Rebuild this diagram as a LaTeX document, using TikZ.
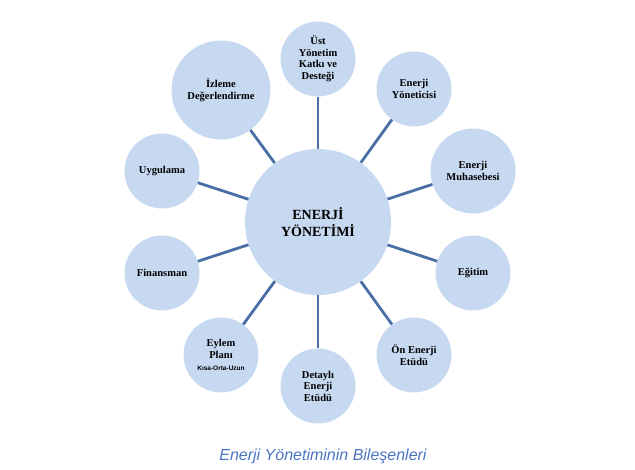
\documentclass[tikz,border=0pt]{standalone}
\usepackage{fontspec}
\setmainfont{Liberation Serif}
\setsansfont{Liberation Sans}
\usepackage{xcolor}
\usepackage{tikz}
\usetikzlibrary{positioning}
\definecolor{bubblefill}{HTML}{C6D9F1}
\definecolor{spokeline}{HTML}{4A6EA6}
\definecolor{captionblue}{HTML}{4A74C0}

\begin{document}
\begin{tikzpicture}[x=1pt,y=-1pt,
		bubble/.style={circle,fill=bubblefill,minimum size=75,inner sep=0,align=center,
			font=\bfseries\fontsize{10.5}{11.5}\selectfont},
		spoke/.style={draw=spokeline,line width=2.8pt}]
		\useasboundingbox (0,0) rectangle (635,470);
		\node[bubble,minimum size=146,font=\bfseries\fontsize{14}{16.5}\selectfont] (ey) at (318,222) {ENERJİ\\YÖNETİMİ};
		\node[bubble] (ust) at (318,59) {Üst\\Yönetim\\Katkı ve\\Desteği};
		\node[bubble] (yon) at (414,89) {Enerji\\Yöneticisi};
		\node[bubble,minimum size=85] (muh) at (473,171) {Enerji\\Muhasebesi};
		\node[bubble] (egt) at (473,273) {Eğitim};
		\node[bubble] (onet) at (414,355) {Ön Enerji\\Etüdü};
		\node[bubble] (det) at (318,386) {Detaylı\\Enerji\\Etüdü};
		\node[bubble] (eyl) at (221,355) {Eylem\\Planı\\[1pt]{\sffamily\fontsize{6.5}{7}\selectfont Kısa-Orta-Uzun}};
		\node[bubble] (fin) at (162,273) {Finansman};
		\node[bubble] (uyg) at (162,171) {Uygulama};
		\node[bubble,minimum size=99] (izl) at (221,90) {İzleme\\Değerlendirme};
		% spokes
		\draw[spoke] (ey) -- (ust);
		\draw[spoke] (ey) -- (yon);
		\draw[spoke] (ey) -- (muh);
		\draw[spoke] (ey) -- (egt);
		\draw[spoke] (ey) -- (onet);
		\draw[spoke] (ey) -- (det);
		\draw[spoke] (ey) -- (eyl);
		\draw[spoke] (ey) -- (fin);
		\draw[spoke] (ey) -- (uyg);
		\draw[spoke] (ey) -- (izl);
		\node[font=\sffamily\itshape\fontsize{16}{18}\selectfont,text=captionblue] (cap) at (323,456) {Enerji Yönetiminin Bileşenleri};
	\end{tikzpicture}
\end{document}
